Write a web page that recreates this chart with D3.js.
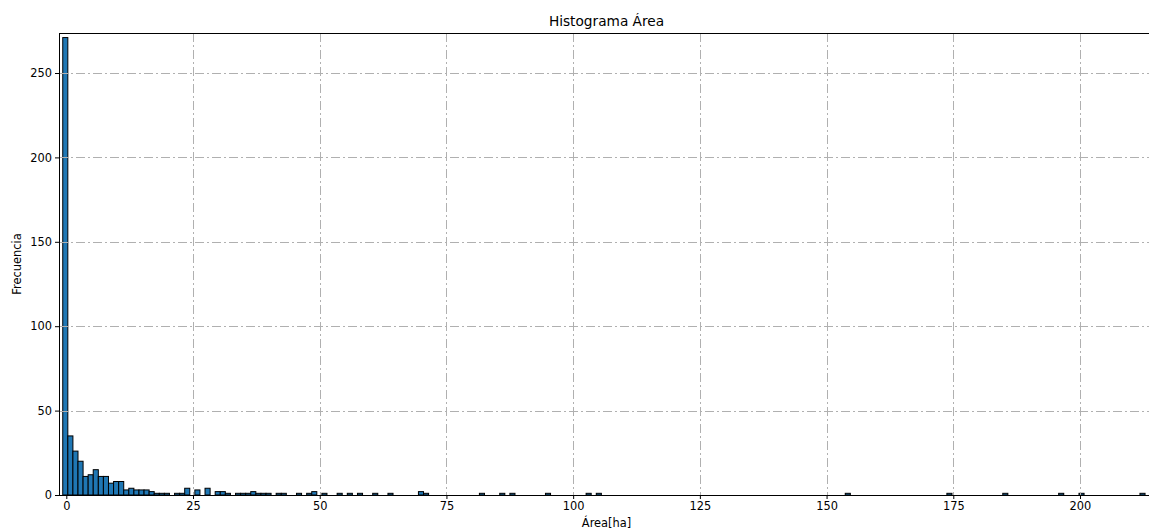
<!DOCTYPE html>
<html>
<head>
<meta charset="utf-8">
<script src="https://cdn.jsdelivr.net/npm/d3@7"></script>
<style>
  html, body { margin: 0; padding: 0; background: #fff; overflow: hidden; }
  svg { display: block; font-family: "DejaVu Sans", sans-serif; }
</style>
</head>
<body>
<svg id="chart" width="1149" height="531"></svg>
<script>
// Histogram bins: left edge of bin 0 and common bin width (ha)
const binEdge0 = -0.7;
const binWidth = 1.0025;

// Non-empty bins: bin number and how many parcels fall in it
const binIndex = [0, 1, 2, 3, 4, 5, 6, 7, 8, 9, 10, 11, 12, 13, 14, 15, 16, 17, 18, 19, 20,
  22, 23, 24, 26, 28, 30, 31, 32, 34, 35, 36, 37, 38, 39, 40, 42, 43, 46, 48, 49,
  51, 54, 56, 58, 61, 64, 70, 71, 82, 86, 88, 95, 103, 105, 154, 174, 185, 196, 200, 212];
const binCount = [271, 35, 26, 20, 11, 12, 15, 11, 11, 7, 8, 8, 3, 4, 3, 3, 3, 2, 1, 1, 1,
  1, 1, 4, 3, 4, 2, 2, 1, 1, 1, 1, 2, 1, 1, 1, 1, 1, 1, 1, 2,
  1, 1, 1, 1, 1, 1, 2, 1, 1, 1, 1, 1, 1, 1, 1, 1, 1, 1, 1, 1];

const xTicks = [0, 25, 50, 75, 100, 125, 150, 175, 200];
const yTicks = [0, 50, 100, 150, 200, 250];

const titleText = "Histograma Área";
const xLabelText = "Área[ha]";
const yLabelText = "Frecuencia";

const bins = binIndex.map((k, i) => ({
  x0: binEdge0 + k * binWidth,
  x1: binEdge0 + (k + 1) * binWidth,
  count: binCount[i]
}));

// Plot area
const plotLeft = 59, plotRight = 1154, plotTop = 33, plotBottom = 495;
const svg = d3.select("#chart");

const x = d3.scaleLinear().domain([-1.44, 214.6]).range([plotLeft, plotRight]);
const y = d3.scaleLinear().domain([0, 273.7]).range([plotBottom, plotTop]);

const clipId = "plot-clip";
svg.append("defs").append("clipPath").attr("id", clipId)
  .append("rect").attr("x", plotLeft).attr("y", plotTop)
  .attr("width", plotRight - plotLeft).attr("height", plotBottom - plotTop);

const plot = svg.append("g").attr("clip-path", `url(#${clipId})`);

// Bars
plot.append("g").selectAll("rect").data(bins).join("rect")
  .attr("x", d => x(d.x0))
  .attr("width", d => x(d.x1) - x(d.x0))
  .attr("y", d => y(d.count))
  .attr("height", d => y(0) - y(d.count))
  .attr("fill", "#1f77b4")
  .attr("stroke", "#000")
  .attr("stroke-width", 1);

// Dash-dot grid
const gridStyle = g => g.attr("stroke", "#b0b0b0").attr("stroke-width", 1)
  .attr("stroke-dasharray", "9,3,2,3").attr("fill", "none");

plot.append("g").call(gridStyle).selectAll("line")
  .data(xTicks.filter(t => t !== 0)).join("line")
  .attr("x1", d => Math.round(x(d)) + 0.5).attr("x2", d => Math.round(x(d)) + 0.5)
  .attr("y1", plotTop).attr("y2", plotBottom);

plot.append("g").call(gridStyle).selectAll("line")
  .data(yTicks.filter(t => t !== 0)).join("line")
  .attr("y1", d => Math.round(y(d)) + 0.5).attr("y2", d => Math.round(y(d)) + 0.5)
  .attr("x1", plotLeft).attr("x2", plotRight);

// Axes
const xAxis = d3.axisBottom(x).tickValues(xTicks).tickSize(4).tickPadding(3)
  .tickFormat(d3.format("d"));
const yAxis = d3.axisLeft(y).tickValues(yTicks).tickSize(4).tickPadding(3)
  .tickFormat(d3.format("d"));

const gx = svg.append("g").attr("transform", `translate(0,${plotBottom})`).call(xAxis);
const gy = svg.append("g").attr("transform", `translate(${plotLeft},0)`).call(yAxis);

[gx, gy].forEach(g => {
  g.select(".domain").remove();
  g.selectAll(".tick line").attr("stroke", "#000").attr("stroke-width", 1);
  g.selectAll(".tick text").attr("fill", "#000")
    .attr("font-family", "DejaVu Sans").attr("font-size", "11.4px");
});

// Spines
svg.append("rect")
  .attr("x", plotLeft + 0.5).attr("y", plotTop + 0.5)
  .attr("width", plotRight - plotLeft).attr("height", plotBottom - plotTop)
  .attr("fill", "none").attr("stroke", "#000").attr("stroke-width", 1);

// Labels
svg.append("text")
  .attr("x", (plotLeft + plotRight) / 2).attr("y", 26)
  .attr("text-anchor", "middle")
  .attr("font-size", "13.7px").attr("fill", "#000")
  .text(titleText);

svg.append("text")
  .attr("x", (plotLeft + plotRight) / 2).attr("y", 527)
  .attr("text-anchor", "middle")
  .attr("font-size", "11.4px").attr("fill", "#000")
  .text(xLabelText);

svg.append("text")
  .attr("transform", `translate(21,${(plotTop + plotBottom) / 2}) rotate(-90)`)
  .attr("text-anchor", "middle")
  .attr("font-size", "11.4px").attr("fill", "#000")
  .text(yLabelText);
</script>
</body>
</html>
